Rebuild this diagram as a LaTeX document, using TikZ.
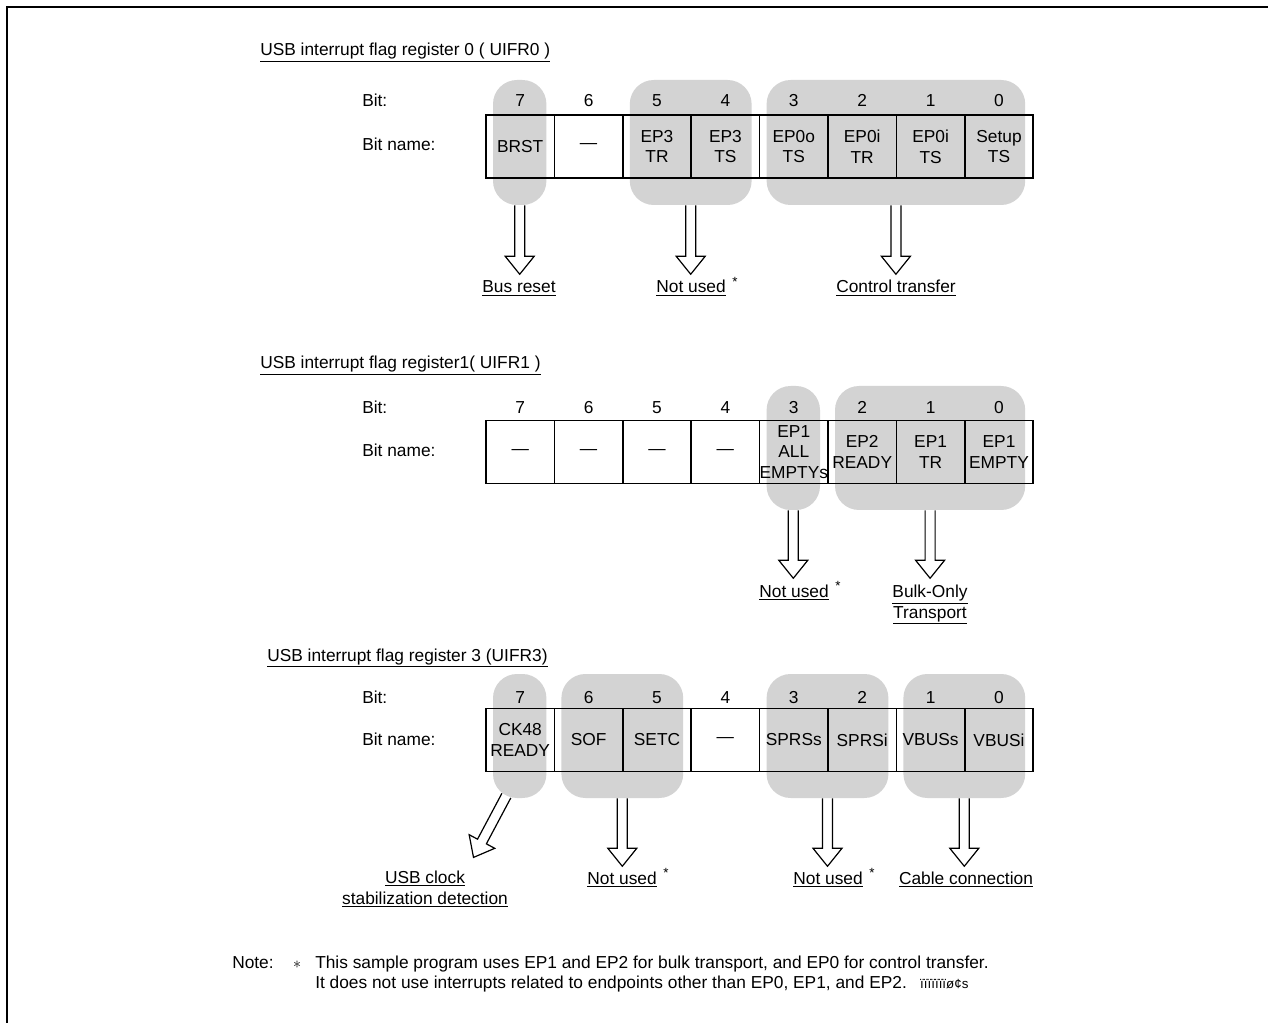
\documentclass[tikz,border=0pt]{standalone}
\usepackage{fontspec}
\setmainfont{Liberation Sans}
\usetikzlibrary{fit}
\definecolor{flaggray}{RGB}{211,211,211}
\tikzset{
	cell/.style={draw,line width=1.1pt,minimum width=51.3pt,minimum height=47.25pt,inner sep=0pt,align=center},
	grp/.style={fill=flaggray,rounded corners=18pt,inner sep=0pt},
	fatline/.style={line width=0.9pt},
	lbl/.style={anchor=base,align=center},
	side/.style={anchor=base west,inner xsep=0pt},
}
\newcommand{\fatarrow}[3]{%
	\begin{scope}[shift={(#1)},rotate=#2]
		\draw[fatline] (-5,0) -- (-5,#3-18) -- (-14.5,#3-18) -- (0,#3) -- (14.5,#3-18) -- (5,#3-18) -- (5,0);
	\end{scope}}
\newcommand{\nused}{\underline{Not used}\hspace{5pt}\raisebox{.7ex}{\fontsize{10}{10}\selectfont *}}
\begin{document}
\begin{tikzpicture}[x=0.75pt,y=-0.75pt,font=\fontsize{13}{15.5}\selectfont]
	\useasboundingbox (0,0) rectangle (1268,1023);
	\draw[line width=1.8pt] (7.2,1023) -- (7.2,7.2) -- (1268,7.2);
	% UIFR0
	\node[side] (t0) at (260,56) {\underline{USB interrupt flag register 0 ( UIFR0 )}};
	\node[side] (bit0) at (362,107) {Bit:};
	\node[side] (name0) at (362,151) {Bit name:};
	\foreach \a/\b/\n in {0/0/brst,2/3/epthree,4/7/ctrl}
		\node[grp,fit={(493+68.4*\a,80) (546.4+68.4*\b,205)}] (\n) {};
	\foreach \t [count=\k from 0] in {BRST,\textemdash,{EP3\\TR},{EP3\\TS},{EP0o\\TS},{EP0i\\TR},{EP0i\\TS},{Setup\\TS}}
		\node[cell] (r0c\k) at (520.2+68.4*\k,146.5) {\t};
	\foreach \k [evaluate=\k as \b using int(7-\k)] in {0,...,7}
		\node[lbl] (r0b\k) at (520.2+68.4*\k,107) {\b};
	\node[lbl] (bus) at (519,293) {\underline{Bus reset}};
	\node[lbl] (nu0) at (697,293) {\nused};
	\node[lbl] (ctl) at (896,293) {\underline{Control transfer}};
	\fatarrow{brst.south}{0}{69}
	\fatarrow{epthree.south}{0}{69}
	\fatarrow{ctrl.south}{0}{69}
	% UIFR1
	\node[side] (t1) at (260,369) {\underline{USB interrupt flag register1( UIFR1 )}};
	\node[side] (bit1) at (362,414) {Bit:};
	\node[side] (name1) at (362,457) {Bit name:};
	\foreach \a/\b/\n in {4/4/allempty,5/7/bulk}
		\node[grp,fit={(493+68.4*\a,386) (546.4+68.4*\b,510)}] (\n) {};
	\foreach \t [count=\k from 0] in {\textemdash,\textemdash,\textemdash,\textemdash,{EP1\\ALL\\EMPTYs},{EP2\\READY},{EP1\\TR},{EP1\\EMPTY}}
		\node[cell] (r1c\k) at (520.2+68.4*\k,452) {\t};
	\foreach \k [evaluate=\k as \b using int(7-\k)] in {0,...,7}
		\node[lbl] (r1b\k) at (520.2+68.4*\k,414) {\b};
	\node[lbl] (nu1) at (800,597) {\nused};
	\node[lbl] (bot) at (930,618) {\underline{Bulk-Only}\\\underline{Transport}};
	\fatarrow{allempty.south}{0}{68}
	\fatarrow{bulk.south}{0}{68}
	% UIFR3
	\node[side] (t3) at (267,661) {\underline{USB interrupt flag register 3 (UIFR3)}};
	\node[side] (bit3) at (362,703) {Bit:};
	\node[side] (name3) at (362,745) {Bit name:};
	\foreach \a/\b/\n in {0/0/ck,1/2/sofc,4/5/sprs,6/7/vbus}
		\node[grp,fit={(493+68.4*\a,674) (546.4+68.4*\b,798)}] (\n) {};
	\foreach \t [count=\k from 0] in {{CK48\\READY},SOF,SETC,\textemdash,SPRSs,SPRSi,VBUSs,VBUSi}
		\node[cell] (r3c\k) at (520.2+68.4*\k,740) {\t};
	\foreach \k [evaluate=\k as \b using int(7-\k)] in {0,...,7}
		\node[lbl] (r3b\k) at (520.2+68.4*\k,703) {\b};
	\node[lbl] (clk) at (425,904) {\underline{USB clock}\\\underline{stabilization detection}};
	\node[lbl] (nu3) at (628,884) {\nused};
	\node[lbl] (nu4) at (834,884) {\nused};
	\node[lbl] (cab) at (966,884) {\underline{Cable connection}};
	\coordinate (ckfoot) at ([xshift=-10pt,yshift=2pt]ck.south);
	\fatarrow{ckfoot}{-28}{70}
	\fatarrow{sofc.south}{0}{68}
	\fatarrow{sprs.south}{0}{68}
	\fatarrow{vbus.south}{0}{68}
	% note
	\node[side] (note) at (232,968) {Note:};
	\node[lbl] (ast) at (297,968) {$\ast$};
	\node[side,align=left,font=\fontsize{13}{15}\selectfont] (nt) at (315,988) {This sample program uses EP1 and EP2 for bulk transport, and EP0 for control transfer.\\It does not use interrupts related to endpoints other than EP0, EP1, and EP2.\hspace{10pt}{\fontsize{10}{10}\selectfont ïïïïïïïø¢s}};
\end{tikzpicture}
\end{document}
